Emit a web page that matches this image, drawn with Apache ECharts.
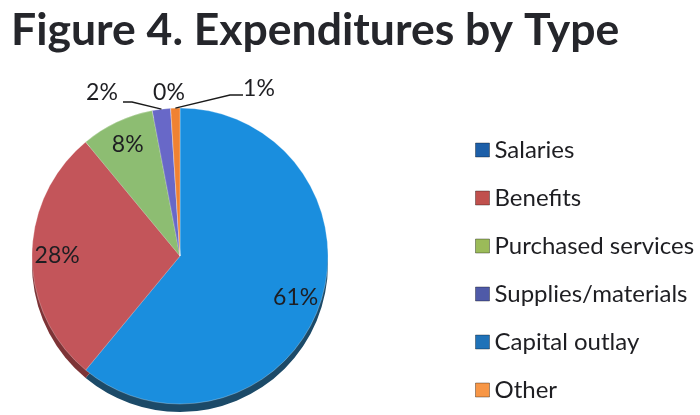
<!DOCTYPE html>
<html>
<head>
<meta charset="utf-8">
<script src="https://cdn.jsdelivr.net/npm/echarts@6/dist/echarts.min.js"></script>
<style>
  html, body { margin: 0; padding: 0; background: #fff; }
  #chart { width: 700px; height: 415px; }
</style>
</head>
<body>
<div id="chart"></div>
<script>
// Expenditure categories and their shares (percent)
const categories = ['Salaries', 'Benefits', 'Purchased services', 'Supplies/materials', 'Capital outlay', 'Other'];
const shares = [61, 28, 8, 2, 0, 1];

// Slice face colours, darker side colours for the 3D rim, and legend swatch colours
const faceColors = ['#1a8ede', '#c3555a', '#8dbd72', '#6868c8', '#2aa0d8', '#f08232'];
const sideColors = ['#1c4a68', '#7d3336', '#4f7040', '#36387a', '#1c4a68', '#9a5020'];
const legendColors = ['#1d5fa8', '#c0504d', '#9bbb59', '#4f5aa8', '#1f72b8', '#f79646'];

// Placement of the small-slice callouts above the pie
const calloutLayout = {
  3: { x: 102, y: 93, line: [[132, 102], [123, 102]] },
  4: { x: 169, y: 93, line: null },
  5: { x: 259, y: 89, line: [[230, 95], [243, 95]] }
};

const CX = 180, CY = 256, R = 148, DEPTH = 8;
const FONT = 'Lato, "Open Sans", sans-serif';

const faceData = categories.map((name, i) => ({
  name, value: shares[i], itemStyle: { color: faceColors[i] }
}));
const sideData = categories.map((name, i) => ({
  name, value: shares[i], itemStyle: { color: sideColors[i] }
}));
const labelData = categories.map((name, i) => {
  const inside = shares[i] >= 5;
  return {
    name, value: shares[i],
    label: { position: inside ? 'inside' : 'outside' },
    labelLine: { show: !inside && calloutLayout[i] && calloutLayout[i].line !== null }
  };
});

const chart = echarts.init(document.getElementById('chart'), null, { renderer: 'canvas' });

chart.setOption({
  animation: false,
  backgroundColor: '#ffffff',
  title: {
    text: 'Figure 4. Expenditures by Type',
    left: 6, top: 3,
    textStyle: { fontFamily: FONT, fontWeight: 'bold', fontSize: 44.5, color: '#25262b' }
  },
  legend: {
    orient: 'vertical',
    left: 470, top: 133,
    itemWidth: 14, itemHeight: 14, itemGap: 24,
    icon: 'rect',
    textStyle: { fontFamily: FONT, fontSize: 24, lineHeight: 24, color: '#1e1e22', padding: [0, 0, 0, 0] },
    data: categories.map((name, i) => ({
      name,
      itemStyle: { color: legendColors[i], borderColor: 'rgba(0,0,0,0.35)', borderWidth: 1 }
    }))
  },
  series: [
    {
      // rim of the pie, offset downward to give depth
      type: 'pie', name: 'side', silent: true, z: 1,
      center: [CX, CY + DEPTH], radius: R,
      startAngle: 90, clockwise: true, avoidLabelOverlap: false,
      label: { show: false }, labelLine: { show: false },
      itemStyle: { borderWidth: 0 },
      data: sideData
    },
    {
      type: 'pie', name: 'Expenditures', z: 2,
      center: [CX, CY], radius: R,
      startAngle: 90, clockwise: true, avoidLabelOverlap: false,
      label: { show: false }, labelLine: { show: false },
      itemStyle: { borderColor: 'rgba(255,255,255,0.45)', borderWidth: 0.6 },
      data: faceData
    },
    {
      // transparent ring that carries the percentage labels
      type: 'pie', name: 'labels', silent: true, z: 3,
      center: [CX, CY], radius: [R * 0.62, R],
      startAngle: 90, clockwise: true, avoidLabelOverlap: false,
      itemStyle: { color: 'rgba(0,0,0,0)', borderWidth: 0 },
      label: {
        show: true,
        formatter: '{d}%',
        fontFamily: FONT, fontSize: 23, color: '#1e1e22'
      },
      labelLine: { show: true, length: 10, length2: 10, lineStyle: { color: '#1a1a1a', width: 1.3 } },
      labelLayout: function (params) {
        const c = calloutLayout[params.dataIndex];
        if (!c) return {};
        const out = { x: c.x, y: c.y, align: 'center', verticalAlign: 'middle' };
        if (c.line && params.labelLinePoints) {
          out.labelLinePoints = [params.labelLinePoints[0], c.line[0], c.line[1]];
        }
        return out;
      },
      data: labelData
    }
  ]
});
</script>
</body>
</html>
